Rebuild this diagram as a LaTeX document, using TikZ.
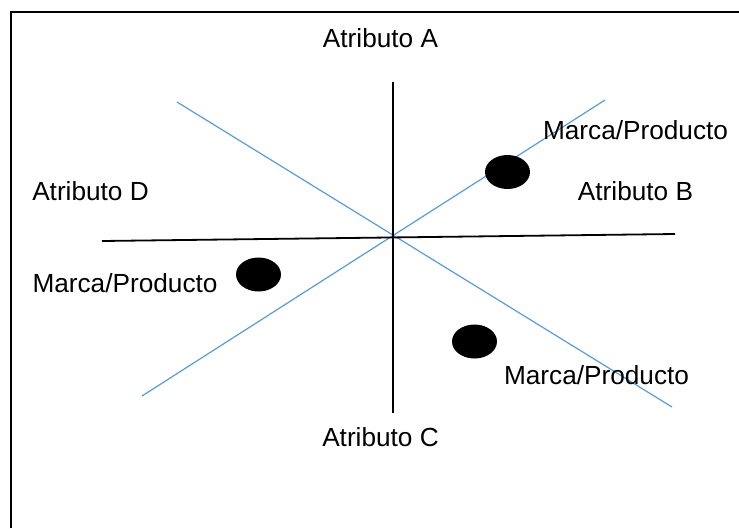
\documentclass[tikz,border=0pt]{standalone}
\usepackage{fontspec}
\setmainfont{Liberation Sans}
\usepackage{xcolor}
\usetikzlibrary{shapes,positioning,calc}

\definecolor{ejeazul}{RGB}{91,155,213}

\begin{document}
\begin{tikzpicture}[x=1pt,y=-1pt,
  lbl/.style={anchor=base, inner sep=0, font=\fontsize{26.2}{31}\selectfont},
  marca/.style={ellipse, fill=black, inner sep=0, minimum width=45, minimum height=34}]
\useasboundingbox (0,0) rectangle (739,528);

% marco
\draw[line width=2pt] (11,528) -- (11,12) -- (739,12);

% ejes
\coordinate (arriba) at (393,82);
\coordinate (abajo) at (393,413);
\coordinate (izq) at (102,241);
\coordinate (der) at (675,234);
\coordinate (diag1a) at (177,102);
\coordinate (diag1b) at (672,407);
\coordinate (diag2a) at (142,396);
\coordinate (diag2b) at (605,100);

\draw[ejeazul, line width=1.2pt] (diag1a) -- (diag1b);
\draw[ejeazul, line width=1.2pt] (diag2a) -- (diag2b);
\draw[line width=1.8pt] (arriba) -- (abajo);
\draw[line width=1.8pt] (izq) -- (der);

% marcas
\node[marca] (m1) at (507.5,172) {};
\node[marca] (m2) at (258.5,274.5) {};
\node[marca] (m3) at (474.5,341.5) {};

% textos
\node[lbl] (atA) at (380.5,47) {Atributo A};
\node[lbl] (atB) at (635.5,200) {Atributo B};
\node[lbl] (atC) at (380.5,446) {Atributo C};
\node[lbl] (atD) at (90.5,200) {Atributo D};
\node[lbl] (mp1) at (635.5,139) {Marca/Producto};
\node[lbl] (mp2) at (125,292) {Marca/Producto};
\node[lbl] (mp3) at (596.5,384) {Marca/Producto};
\end{tikzpicture}
\end{document}
